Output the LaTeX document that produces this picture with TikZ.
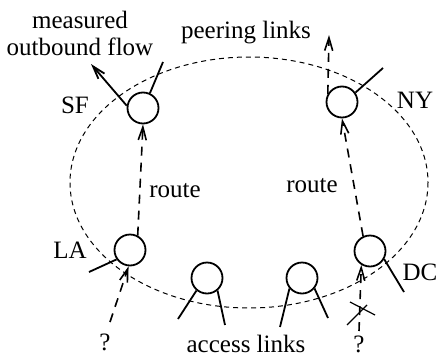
\documentclass[tikz,border=0pt]{standalone}
\usepackage{fontspec}
\setmainfont{Liberation Serif}
\usetikzlibrary{arrows.meta}
\tikzset{
  router/.style={circle,draw,line width=1.8pt,minimum size=31pt,inner sep=0pt},
  lbl/.style={anchor=base,inner sep=0pt,font=\fontsize{25}{28}\selectfont},
  link/.style={line width=1.8pt},
  routeline/.style={line width=1.6pt,dash pattern=on 9pt off 7pt},
  tip/.style={-{Straight Barb[length=13pt,width=8pt]}},
  region/.style={line width=1pt,dash pattern=on 5pt off 4pt}
}
\begin{document}
\begin{tikzpicture}[x=1pt,y=-1pt]
\useasboundingbox (0,0) rectangle (441,356);
% AS boundary
\draw[region] (249,182.5) ellipse [x radius=179, y radius=125.5];
% routers
\node[router] (SF) at (143,108) {};
\node[router] (NY) at (342,102) {};
\node[router] (LA) at (130,250) {};
\node[router] (A1) at (207,278) {};
\node[router] (A2) at (302,278) {};
\node[router] (DC) at (370,251) {};
% labels
\node[lbl] (m1) at (80,28) {measured};
\node[lbl] (m2) at (80,55) {outbound flow};
\node[lbl] (pl) at (246,38) {peering links};
\node[lbl] (sfl) at (75,113) {SF};
\node[lbl] (nyl) at (415,108) {NY};
\node[lbl] (lal) at (70,258) {LA};
\node[lbl] (dcl) at (420,280) {DC};
\node[lbl] (r1) at (175,197) {route};
\node[lbl] (r2) at (312,192) {route};
\node[lbl] (q1l) at (105,350) {?};
\node[lbl] (al) at (246,352) {access links};
\node[lbl] (q2l) at (359,352) {?};
% free ends
\coordinate (sfout) at (91,64);
\coordinate (sfpeer) at (163,62);
\coordinate (nyout) at (329,35);
\coordinate (nypeer) at (383,68);
\coordinate (laacc) at (89,272);
\coordinate (q1) at (110,322);
\coordinate (a1l) at (178,319);
\coordinate (a1r) at (225,325);
\coordinate (a2l) at (280,327);
\coordinate (a2r) at (328,318);
\coordinate (dcacc) at (404,292);
\coordinate (q2) at (359,331);
\coordinate (x1a) at (347,325);
\coordinate (x1b) at (367,305);
\coordinate (x2a) at (350,302);
\coordinate (x2b) at (375,315);
% solid links
\draw[link,tip] (SF.172) -- (sfout);
\draw[link] (SF.65) -- (sfpeer);
\draw[link] (NY.35) -- (nypeer);
\draw[link] (LA.215) -- (laacc);
\draw[link] (A1.230) -- (a1l);
\draw[link] (A1.310) -- (a1r);
\draw[link] (A2.220) -- (a2l);
\draw[link] (A2.320) -- (a2r);
\draw[link] (DC.330) -- (dcacc);
% routes
\draw[routeline,tip] (LA.62) -- (SF.south);
\draw[routeline,tip] (DC.115) -- (NY.south);
\draw[routeline,tip] (NY.150) -- (nyout);
\draw[routeline,tip] (q1) -- (LA.265);
\draw[routeline,tip] (q2) -- (DC.238);
% failed link cross
\draw[line width=1.2pt] (x1a) -- (x1b);
\draw[line width=1.2pt] (x2a) -- (x2b);
\end{tikzpicture}
\end{document}
